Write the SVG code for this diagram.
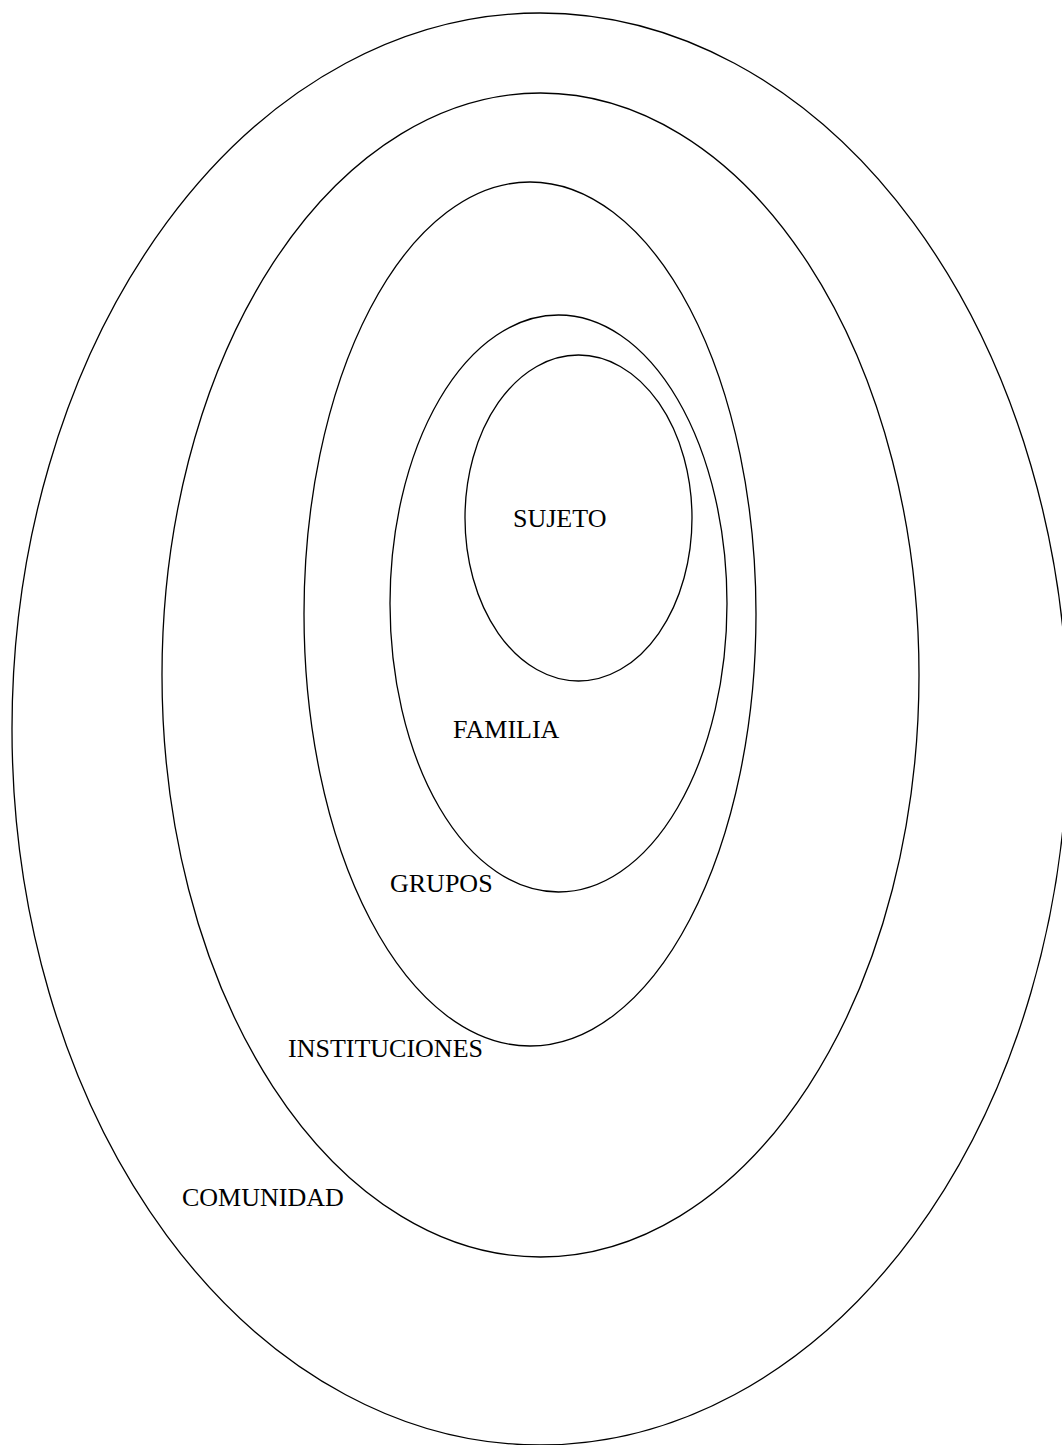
<svg xmlns="http://www.w3.org/2000/svg" width="1062" height="1445" viewBox="0 0 1062 1445">
<style>
.ring{fill:none;stroke:#000;stroke-width:1.3}
.lbl{font-family:"Liberation Serif","Times New Roman",serif;font-size:26px;fill:#000}
</style>
<rect width="1062" height="1445" fill="#fff"/>
<g id="comunidad"><ellipse class="ring" cx="540" cy="729" rx="528" ry="716"/><text class="lbl" x="182" y="1206">COMUNIDAD</text></g>
<g id="instituciones"><ellipse class="ring" cx="540.5" cy="675" rx="378.5" ry="582"/><text class="lbl" x="288" y="1057">INSTITUCIONES</text></g>
<g id="grupos"><ellipse class="ring" cx="530" cy="614" rx="226" ry="432"/><text class="lbl" x="390" y="892">GRUPOS</text></g>
<g id="familia"><ellipse class="ring" cx="558.5" cy="603.5" rx="168.5" ry="288.5"/><text class="lbl" x="453" y="738">FAMILIA</text></g>
<g id="sujeto"><ellipse class="ring" cx="578.5" cy="518" rx="113.5" ry="163"/><text class="lbl" x="513" y="527">SUJETO</text></g>
<g id="connectors"/>
</svg>
